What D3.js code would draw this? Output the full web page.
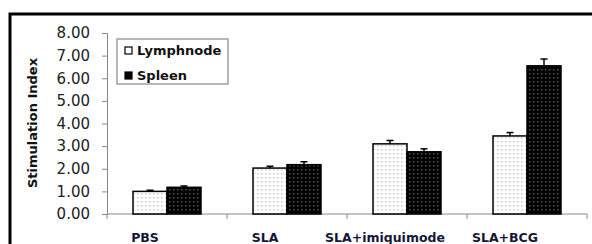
<!DOCTYPE html>
<html>
<head>
<meta charset="UTF-8">
<script src="https://d3js.org/d3.v7.min.js"></script>
<style>
  body { margin: 0; background: #fff; }
  svg { display: block; }
</style>
</head>
<body>
<svg id="chart" width="592" height="244"></svg>
<script>
const categories = ["PBS", "SLA", "SLA+imiquimode", "SLA+BCG"];
const seriesNames = ["Lymphnode", "Spleen"];
const lymphnode = [1.0, 2.03, 3.1, 3.45];
const spleen = [1.18, 2.18, 2.75, 6.55];
const lymphnodeErr = [0.05, 0.08, 0.15, 0.15];
const spleenErr = [0.06, 0.13, 0.13, 0.3];
const yTicks = [0, 1, 2, 3, 4, 5, 6, 7, 8];

const svg = d3.select("#chart");

// dotted fills
const defs = svg.append("defs");
const pLight = defs.append("pattern").attr("id", "dotsLight")
  .attr("width", 4).attr("height", 4).attr("patternUnits", "userSpaceOnUse");
pLight.append("rect").attr("width", 4).attr("height", 4).attr("fill", "#fff");
pLight.append("rect").attr("x", 1).attr("y", 1).attr("width", 1.5).attr("height", 1.5).attr("fill", "#c8c8c8");
const pDark = defs.append("pattern").attr("id", "dotsDark")
  .attr("width", 4).attr("height", 4).attr("patternUnits", "userSpaceOnUse");
pDark.append("rect").attr("width", 4).attr("height", 4).attr("fill", "#000");
pDark.append("rect").attr("x", 1).attr("y", 1).attr("width", 1.5).attr("height", 1.5).attr("fill", "#555");

// outer frame
svg.append("rect").attr("x", 10).attr("y", 14).attr("width", 600).attr("height", 260)
  .attr("fill", "none").attr("stroke", "#000").attr("stroke-width", 3);

const x = d3.scaleBand().domain(categories).range([107, 587]).padding(0);
const xSub = d3.scaleBand().domain(seriesNames).range([0, 68]);
const y = d3.scaleLinear().domain([0, 8]).range([214, 33]);
const groupOff = (x.bandwidth() - 68) / 2;

// y axis
const yAxis = svg.append("g").attr("transform", "translate(107,0)")
  .call(d3.axisLeft(y).tickValues(yTicks).tickSize(5).tickFormat(d3.format(".2f")));
yAxis.select(".domain").attr("stroke", "#888");
yAxis.selectAll(".tick line").attr("stroke", "#888");
yAxis.selectAll(".tick text").attr("x", -17).attr("fill", "#222")
  .style("font", "15px 'DejaVu Sans', sans-serif");

// x axis line with boundary ticks
const xAxisG = svg.append("g");
xAxisG.append("line").attr("x1", 107).attr("x2", 587).attr("y1", y(0)).attr("y2", y(0))
  .attr("stroke", "#888");
xAxisG.selectAll("line.bt").data(categories.concat(["end"])).enter().append("line")
  .attr("class", "bt")
  .attr("x1", (d, i) => i < categories.length ? x(d) : x.range()[1])
  .attr("x2", (d, i) => i < categories.length ? x(d) : x.range()[1])
  .attr("y1", y(0)).attr("y2", y(0) + 5).attr("stroke", "#888");
xAxisG.selectAll("text").data(categories).enter().append("text")
  .attr("x", d => x(d) + x.bandwidth() / 2 - 22)
  .attr("y", 242)
  .attr("text-anchor", "middle")
  .attr("fill", "#16163a")
  .style("font", "bold 12.5px 'DejaVu Sans', sans-serif")
  .text(d => d);

// y title
svg.append("text")
  .attr("transform", "translate(32,123) rotate(-90)")
  .attr("text-anchor", "middle").attr("dy", "0.35em")
  .attr("fill", "#111")
  .style("font", "bold 13px 'DejaVu Sans', sans-serif")
  .text("Stimulation Index");

// bars
const series = [
  { name: "Lymphnode", values: lymphnode, err: lymphnodeErr, fill: "url(#dotsLight)" },
  { name: "Spleen", values: spleen, err: spleenErr, fill: "url(#dotsDark)" }
];

series.forEach(s => {
  const g = svg.append("g");
  const rows = categories.map((c, i) => ({ c, v: s.values[i], e: s.err[i] }));
  const bx = d => x(d.c) + groupOff + xSub(s.name);
  g.selectAll("rect").data(rows).enter().append("rect")
    .attr("x", bx)
    .attr("y", d => y(d.v))
    .attr("width", xSub.bandwidth())
    .attr("height", d => y(0) - y(d.v))
    .attr("fill", s.fill)
    .attr("stroke", "#000").attr("stroke-width", 1.5);
  const cx = d => bx(d) + xSub.bandwidth() / 2;
  g.selectAll("line.err").data(rows).enter().append("line").attr("class", "err")
    .attr("x1", cx).attr("x2", cx)
    .attr("y1", d => y(d.v)).attr("y2", d => y(d.v + d.e))
    .attr("stroke", "#000").attr("stroke-width", 1.5);
  g.selectAll("line.cap").data(rows).enter().append("line").attr("class", "cap")
    .attr("x1", d => cx(d) - 3.5).attr("x2", d => cx(d) + 3.5)
    .attr("y1", d => y(d.v + d.e)).attr("y2", d => y(d.v + d.e))
    .attr("stroke", "#000").attr("stroke-width", 1.5);
});

// legend
const legend = svg.append("g");
legend.append("rect").attr("x", 117).attr("y", 39).attr("width", 111).attr("height", 45)
  .attr("fill", "#fff").attr("stroke", "#888").attr("stroke-width", 1.2);
const legY = d3.scalePoint().domain(seriesNames).range([50, 75]);
legend.selectAll("rect.sw").data(series).enter().append("rect").attr("class", "sw")
  .attr("x", 125).attr("y", d => legY(d.name) - 3)
  .attr("width", 7).attr("height", 7)
  .attr("fill", (d, i) => i === 0 ? "#fff" : "#000")
  .attr("stroke", "#000").attr("stroke-width", 1.2);
legend.selectAll("text").data(series).enter().append("text")
  .attr("x", 137).attr("y", d => legY(d.name) + 5)
  .attr("fill", "#111")
  .style("font", "bold 13px 'DejaVu Sans', sans-serif")
  .text(d => d.name);
</script>
</body>
</html>
